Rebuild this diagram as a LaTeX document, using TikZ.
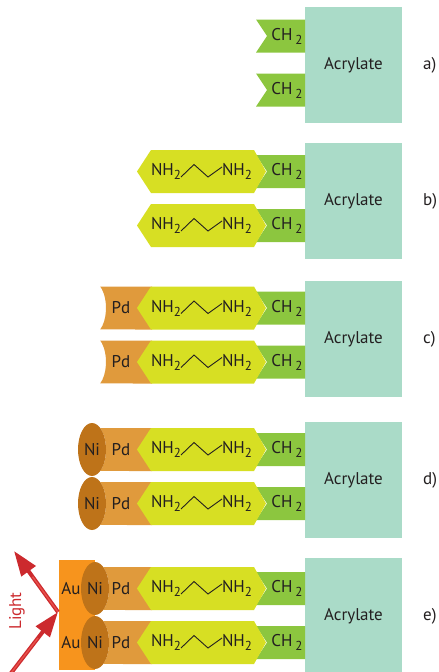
\documentclass[tikz,border=0pt]{standalone}
\usepackage{fontspec}
\setmainfont{PT Sans}
\usetikzlibrary{arrows.meta,calc}
\definecolor{acryl}{HTML}{AADBC8}
\definecolor{chgreen}{HTML}{8CC63F}
\definecolor{amyellow}{HTML}{D7DF23}
\definecolor{pdorange}{HTML}{E09A3C}
\definecolor{nibrown}{HTML}{BE7319}
\definecolor{auorange}{HTML}{F7941D}
\definecolor{lightred}{HTML}{CC2A2E}
\definecolor{shinered}{HTML}{E8504A}
\definecolor{ink}{HTML}{231F20}
\newcommand{\subtwo}{\raisebox{-4pt}{\fontsize{13}{13}\selectfont 2}}

\begin{document}
\begin{tikzpicture}[x=1pt, y=1pt, yscale=-1,
    lbl/.style={font=\fontsize{17}{19}\selectfont, text=ink, inner sep=0pt},
    bond/.style={ink, line width=0.9pt},
    ray/.style={lightred, line width=4pt, -{Triangle[length=25pt,width=17pt]}},
    shine/.style={shinered, line width=1.4pt}]
  \useasboundingbox (0,0) rectangle (439,672);

  % panel / box centre / first row / stage / Ni x
  \foreach \p/\c/\t/\lev/\nx in {a/65/36/0/0, b/201/171.5/1/0, c/339/308/2/92, d/480/449.5/3/92, e/616/588.5/4/95} {
    \node[lbl, fill=acryl, minimum width=97pt, minimum height=116pt] (acr-\p) at (353.5,\c) {Acrylate};
    \node[lbl, anchor=west] (tag-\p) at (423,\c) {\p)};
    \ifnum\lev>3
      \fill[auorange] (59,\t-28.5) rectangle (\nx,\t+81.5);
    \fi
    \foreach \r in {1,2} {
      \pgfmathsetmacro{\y}{\t+54*(\r-1)}
      \fill[chgreen] (256,\y-16.5) -- (305,\y-16.5) -- (305,\y+16.5) -- (256,\y+16.5) -- (267,\y) -- cycle;
      \node[lbl] (ch-\p-\r) at (287,\y) {CH\,\subtwo};
      \ifnum\lev>1
        \fill[pdorange] (152,\y-21.5) -- (\nx+8.2,\y-21.5)
          arc[start angle=-54.2, end angle=54.2, x radius=14, y radius=26.5]
          -- (152,\y+21.5) -- cycle;
        \node[lbl] (pd-\p-\r) at (121,\y) {Pd};
      \fi
      \ifnum\lev>0
        \fill[amyellow] (137,\y) -- (151,\y-21.5) -- (254,\y-21.5) -- (266,\y)
          -- (254,\y+21.5) -- (151,\y+21.5) -- cycle;
        \node[lbl] (nl-\p-\r) at (166,\y) {NH\subtwo};
        \node[lbl] (nr-\p-\r) at (237,\y) {NH\subtwo};
        \draw[bond] (181,\y+5.5) -- ++(13,-12.5) -- ++(14,12.5) -- ++(14,-10);
      \fi
      \ifnum\lev>2
        \fill[nibrown] (\nx,\y) ellipse[x radius=14, y radius=26.5];
        \node[lbl] (ni-\p-\r) at (\nx,\y) {Ni};
      \fi
      \ifnum\lev>3
        \node[lbl] (au-\p-\r) at (71,\y) {Au};
      \fi
    }
  }

  % incoming and reflected light
  \coordinate (hit) at (58,612);
  \coordinate (src) at (8,677);
  \coordinate (sky) at (14,551);
  \draw[ray] (src) -- (hit);
  \draw[ray] (hit) -- (sky);
  \draw[shine] (src) -- ($(src)!0.6!(hit)$);
  \draw[shine] (hit) -- ($(hit)!0.58!(sky)$);
  \node[lbl, text=lightred, rotate=90] (light) at (17,611) {Light};
\end{tikzpicture}
\end{document}
